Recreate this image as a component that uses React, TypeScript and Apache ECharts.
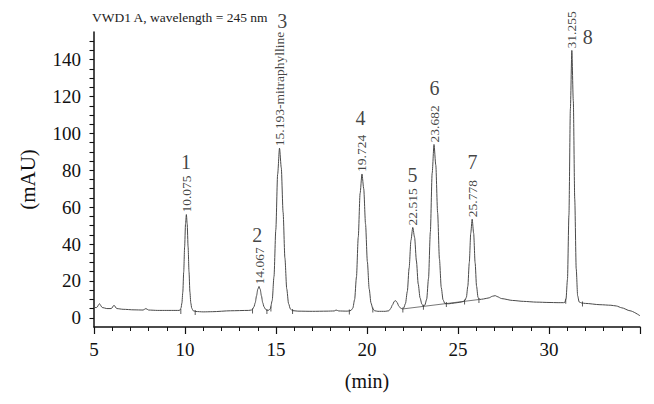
import React, { useEffect, useRef } from "react";
import * as echarts from "echarts";

// Chromatogram signal: retention time (min) and absorbance (mAU)
const signalTime = [
  5.0, 5.15, 5.3, 5.45, 5.7, 5.95, 6.1, 6.25, 6.6, 7.2, 7.7, 7.85, 8.0, 8.5, 9.0, 9.5,
  9.7, 9.78, 9.83, 9.88, 9.93, 9.98, 10.03, 10.075, 10.12, 10.17, 10.22, 10.27, 10.32, 10.37, 10.45,
  10.6, 11.0, 11.5, 12.5, 13.5,
  13.65, 13.72, 13.79, 13.86, 13.93, 14.0, 14.067, 14.13, 14.2, 14.27, 14.34, 14.41, 14.5,
  14.6, 14.69, 14.79, 14.89, 14.99, 15.09, 15.193, 15.29, 15.39, 15.49, 15.59, 15.69, 15.79, 15.89,
  16.2, 17.0, 17.8, 18.2, 18.3, 18.45, 18.9,
  19.0, 19.12, 19.22, 19.32, 19.42, 19.52, 19.62, 19.724, 19.82, 19.92, 20.02, 20.12, 20.22, 20.32, 20.42,
  20.6, 21.0, 21.2, 21.3, 21.4, 21.5, 21.57, 21.65, 21.75, 21.85, 21.95,
  22.015, 22.115, 22.215, 22.315, 22.415, 22.515, 22.615, 22.715, 22.815, 22.915, 23.015, 23.1,
  23.18, 23.28, 23.38, 23.48, 23.58, 23.682, 23.78, 23.88, 23.98, 24.08, 24.18, 24.28,
  24.5, 24.8, 25.1, 25.28,
  25.38, 25.46, 25.54, 25.62, 25.7, 25.778, 25.86, 25.94, 26.02, 26.1, 26.18,
  26.4, 26.7, 26.9, 27.05, 27.15, 27.4, 28.0, 28.6, 29.3, 30.0, 30.5, 30.8, 30.86,
  30.935, 31.015, 31.095, 31.175, 31.255, 31.335, 31.415, 31.495, 31.575, 31.655, 31.8,
  32.0, 32.8, 33.4, 33.7, 34.0, 34.45, 35.0,
];
const signalMAU = [
  5.5, 5.6, 7.6, 5.6, 5.0, 5.0, 6.8, 5.0, 4.6, 4.3, 4.2, 5.0, 4.2, 4.0, 4.0, 4.0,
  4.0, 5.2, 8, 14, 25, 38.5, 51, 56, 51, 38.5, 25, 14, 8, 5.2, 3.8,
  3.4, 3.2, 3.3, 3.8, 4.0,
  4.2, 4.8, 6, 8.2, 11.9, 15.5, 17, 15.5, 11.9, 8.2, 6, 4.8, 4.0,
  4.1, 5.0, 9.3, 22.4, 47.8, 77.8, 92, 81.4, 57.2, 32.4, 15.7, 7.7, 4.8, 3.9,
  3.6, 3.5, 3.6, 3.7, 4.2, 3.7, 3.6,
  3.7, 4.0, 5.2, 9.9, 22.1, 43.7, 67.4, 78, 70, 50.8, 30.4, 15.7, 8.0, 4.9, 3.8,
  3.5, 3.5, 3.8, 5.0, 7.0, 8.9, 9.3, 8.4, 6.3, 5.2, 4.8,
  5.3, 7.8, 14.3, 27, 42, 49, 43.6, 30.8, 18.3, 10.8, 7.4, 6.2,
  6.9, 10.1, 21.4, 46.4, 78.4, 94, 82.8, 57, 31.9, 16.4, 9.7, 7.7,
  7.6, 8.0, 8.4, 8.8,
  9.4, 11.1, 17.1, 29.9, 45.8, 53.5, 45.8, 29.9, 17.1, 11.1, 9.9,
  10.2, 10.8, 11.7, 12.0, 11.5, 10.4, 9.4, 8.9, 8.5, 8.3, 8.2, 8.2, 8.3,
  10.2, 20.9, 55.7, 113.3, 145, 117.7, 64.3, 26.6, 11.9, 8.6, 8.0,
  7.8, 7.1, 6.8, 6.4, 5.4, 3.8, 1.1,
];

// Peak apexes and their retention-time annotations
const peakTimes = [10.075, 14.067, 15.193, 19.724, 22.515, 23.682, 25.778, 31.255];
const peakMAU = [56, 17, 92, 78, 49, 94, 53.5, 145];
const peakTimeLabels = ["10.075", "14.067", "15.193-mitraphylline", "19.724", "22.515", "23.682", "25.778", "31.255"];

// Peak numbers and where they sit (data coordinates)
const peakNumbers = ["1", "2", "3", "4", "5", "6", "7", "8"];
const peakNumberTimes = [10.06, 13.97, 15.35, 19.64, 22.5, 23.71, 25.8, 32.13];
const peakNumberMAU = [84.6, 44.7, 160.7, 108.6, 77.5, 124.4, 84.3, 152.5];

// Integration start/end markers
const markTimes = [9.77, 10.56, 13.71, 14.5, 14.72, 15.91, 19.03, 20.32, 21.97, 23.1, 24.36, 25.36, 26.15, 30.92, 31.84];
const markMAU = [4.0, 3.4, 4.2, 4.0, 5.3, 3.9, 3.7, 4.8, 4.8, 6.2, 7.7, 9.1, 9.9, 9.5, 8.0];

// Drawn integration baseline under peaks 5-7
const baselineTimes = [21.97, 26.15];
const baselineMAU = [4.8, 9.9];

// Axis ticks
const xTickLabels = [5, 10, 15, 20, 25, 30];
const yTickLabels = [0, 20, 40, 60, 80, 100, 120, 140];

const SERIF = "'Liberation Serif', 'DejaVu Serif', serif";
const INK = "#111";

export default function App() {
  const ref = useRef<HTMLDivElement>(null);

  useEffect(() => {
    if (!ref.current) return;
    const chart = echarts.init(ref.current, undefined, { renderer: "svg" });

    const signal = signalTime.map((t, i) => [t, signalMAU[i]]);
    const apexes = peakTimes.map((t, i) => ({ value: [t, peakMAU[i]], name: peakTimeLabels[i] }));
    const numbers = peakNumberTimes.map((t, i) => ({ value: [t, peakNumberMAU[i]], name: peakNumbers[i] }));
    const marks = markTimes.map((t, i) => [t, markMAU[i]]);
    const baseline = baselineTimes.map((t, i) => [t, baselineMAU[i]]);

    chart.setOption({
      animation: false,
      backgroundColor: "#fff",
      title: {
        text: "VWD1 A, wavelength = 245 nm",
        left: 87,
        top: 5,
        textStyle: { fontFamily: SERIF, fontSize: 13.5, fontWeight: "normal", color: "#222" },
      },
      grid: { left: 94, right: 14, top: 32, bottom: 77, containLabel: false },
      xAxis: {
        type: "value",
        min: 5,
        max: 35,
        interval: 5,
        name: "(min)",
        nameLocation: "middle",
        nameGap: 44,
        nameTextStyle: { fontFamily: SERIF, fontSize: 20, color: INK },
        axisLine: { show: true, onZero: false, lineStyle: { color: INK, width: 1.5 } },
        axisTick: { show: true, length: 7, lineStyle: { color: INK, width: 1.2 } },
        minorTick: { show: true, splitNumber: 5, length: 4, lineStyle: { color: INK, width: 1 } },
        splitLine: { show: false },
        axisLabel: {
          margin: 13,
          fontFamily: SERIF,
          fontSize: 19,
          color: INK,
          formatter: (v: number) => (xTickLabels.includes(v) ? String(v) : ""),
        },
      },
      yAxis: {
        type: "value",
        min: -5,
        max: 155,
        interval: 5,
        name: "(mAU)",
        nameLocation: "middle",
        nameRotate: 90,
        nameGap: 56,
        nameTextStyle: { fontFamily: SERIF, fontSize: 21, color: INK },
        axisLine: { show: true, onZero: false, lineStyle: { color: INK, width: 1.5 } },
        axisTick: { show: true, length: 4.5, lineStyle: { color: INK, width: 1.1 } },
        splitLine: { show: false },
        axisLabel: {
          margin: 13,
          fontFamily: SERIF,
          fontSize: 19,
          color: INK,
          interval: 0,
          showMaxLabel: false,
          showMinLabel: false,
          formatter: (v: number) => (yTickLabels.includes(v) ? String(v) : ""),
        },
      },
      series: [
        {
          type: "line",
          data: signal,
          showSymbol: false,
          symbol: "none",
          smooth: 0.25,
          smoothMonotone: "x",
          lineStyle: { color: "#4a4a4a", width: 1 },
          silent: true,
          z: 3,
        },
        {
          type: "line",
          data: baseline,
          showSymbol: false,
          symbol: "none",
          lineStyle: { color: "#555", width: 0.8 },
          silent: true,
          z: 2,
        },
        {
          type: "scatter",
          data: marks,
          symbol: "rect",
          symbolSize: [1, 5],
          symbolOffset: [0, 1],
          itemStyle: { color: "#333" },
          silent: true,
          z: 4,
        },
        {
          type: "scatter",
          data: apexes,
          symbolSize: 0,
          clip: false,
          silent: true,
          label: {
            show: true,
            position: "top",
            distance: 2,
            rotate: 90,
            align: "left",
            verticalAlign: "middle",
            formatter: "{b}",
            fontFamily: SERIF,
            fontSize: 13.5,
            color: INK,
          },
          z: 5,
        },
        {
          type: "scatter",
          data: numbers,
          symbolSize: 0,
          clip: false,
          silent: true,
          label: {
            show: true,
            position: "inside",
            formatter: "{b}",
            fontFamily: SERIF,
            fontSize: 20,
            color: INK,
          },
          z: 5,
        },
      ],
    });

    return () => chart.dispose();
  }, []);

  return (
    <div
      ref={ref}
      style={{ position: "fixed", left: 0, top: 0, width: 654, height: 404, background: "#fff" }}
    />
  );
}
